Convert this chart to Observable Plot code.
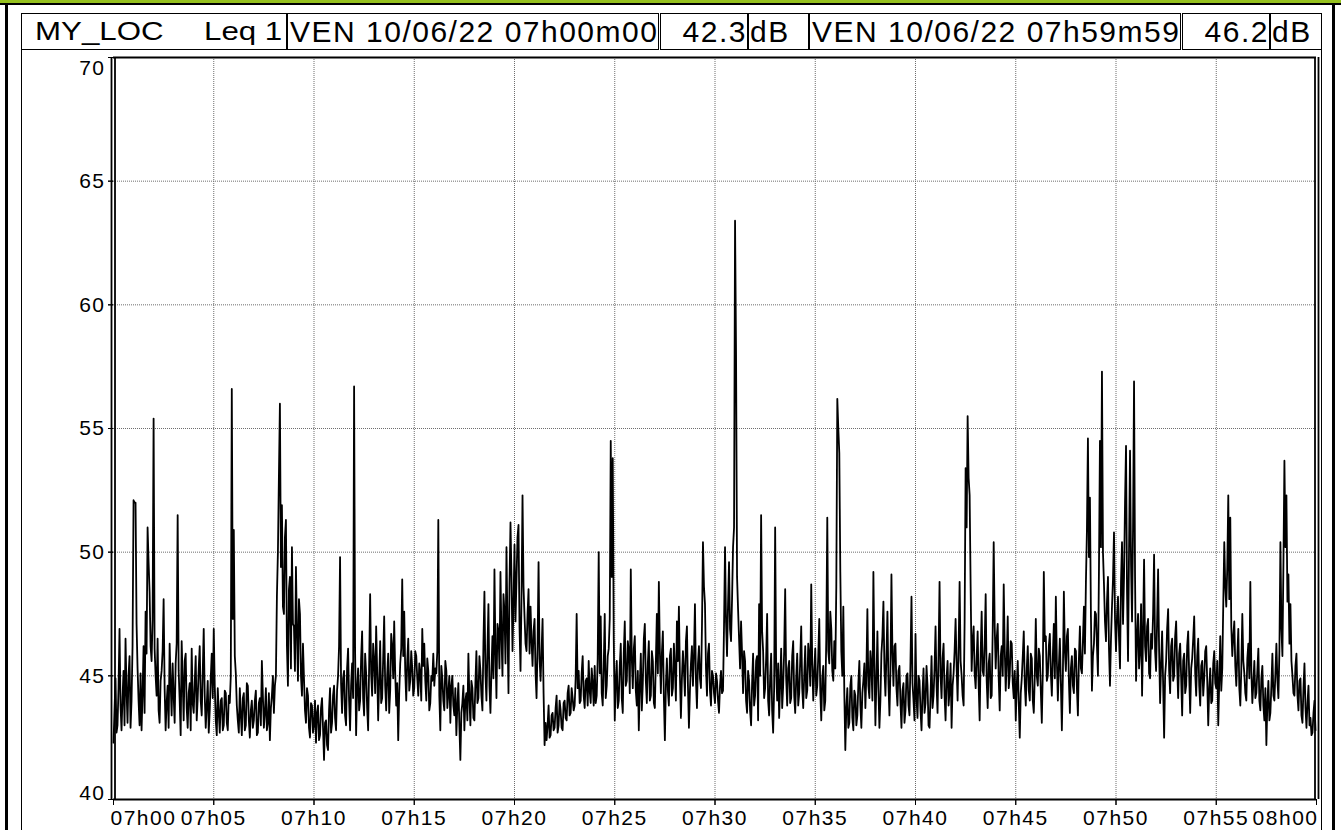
<!DOCTYPE html>
<html>
<head>
<meta charset="utf-8">
<script src="https://cdn.jsdelivr.net/npm/d3@7"></script>
<script src="https://cdn.jsdelivr.net/npm/@observablehq/plot@0.6"></script>
<style>
  html, body { margin: 0; padding: 0; background: #fff; }
  body { font-family: "Liberation Sans", Arial, sans-serif; }
  #page { position: relative; width: 1341px; height: 830px; overflow: hidden; background: #fff; }
  .deco { position: absolute; }
  #header { position: absolute; left: 0; top: 0; width: 1341px; height: 50px; }
  .cell { position: absolute; top: 13px; height: 37px; box-sizing: border-box; border: 1.5px solid #000;
          display: flex; align-items: center; white-space: nowrap; color: #000; background: #fff; }
  .big { font-size: 30px; letter-spacing: 1.5px; }
  .small { font-size: 25px; display: inline-block; transform: scaleX(1.25); transform-origin: left center; }
  #chart { position: absolute; left: 0; top: 50px; }
  #chart svg text { letter-spacing: 1.5px; font-size: 21px; }
</style>
</head>
<body>
<div id="page">
  <div id="header"></div>
  <div id="chart"></div>
</div>
<script>
// ---- Header texts ----
const locationName = "MY_LOC";
const metricName = "Leq 1";
const startStamp = "VEN 10/06/22 07h00m00";
const startValue = "42.3";
const endStamp = "VEN 10/06/22 07h59m59";
const endValue = "46.2";
const unit = "dB";

// ---- Axis ticks ----
const xTicks = [0, 5, 10, 15, 20, 25, 30, 35, 40, 45, 50, 55, 60];           // minutes after 07h00
const xTickLabels = ["07h00","07h05","07h10","07h15","07h20","07h25","07h30",
                     "07h35","07h40","07h45","07h50","07h55","08h00"];
const yTicks = [40, 45, 50, 55, 60, 65, 70];

// ---- Leq 1 values (dB), one every 3 s, one row per minute ----
const leq = [
  42.3,43.6,44.9,42.7,43.0,44.5,46.9,43.8,42.8,44.1,45.2,43.0,46.5,44.4,43.1,45.0,45.8,42.9,44.0,46.2, // 07h00
  52.1,52.0,52.0,47.1,45.3,44.0,43.0,45.1,42.8,44.3,46.2,43.5,47.6,45.9,51.0,49.6,48.4,46.2,45.6,47.3, // 07h01
  55.4,46.1,45.0,44.2,46.5,43.6,43.1,44.8,45.2,46.0,48.1,44.5,42.8,43.9,44.6,42.9,46.3,44.7,43.4,45.5, // 07h02
  44.2,43.1,45.5,46.3,51.5,45.2,44.0,42.6,46.4,44.8,43.2,45.6,45.9,43.7,42.9,44.3,44.7,42.8,46.1,43.9, // 07h03
  43.5,44.7,45.8,43.2,44.1,45.3,46.2,44.0,43.4,45.1,46.9,44.2,42.9,43.8,44.8,42.7,43.6,44.9,45.9,44.1, // 07h04
  46.9,44.6,43.2,42.6,44.5,43.5,42.7,44.0,44.1,42.8,43.0,44.4,44.3,43.1,42.8,44.2,43.9,45.0,56.6,47.3, // 07h05
  50.9,45.8,45.1,43.8,43.2,42.7,44.5,43.4,42.6,44.1,44.3,42.8,43.0,44.7,44.6,43.2,42.5,43.6,44.0,42.9, // 07h06
  43.2,44.0,44.4,42.6,42.7,43.9,44.1,43.0,45.6,44.2,42.9,43.5,44.5,42.8,43.1,44.3,42.4,43.7,44.2,45.0, // 07h07
  43.5,44.6,45.0,48.2,50.0,53.1,56.0,49.4,51.9,47.8,47.5,50.6,51.3,46.2,44.6,48.5,49.0,45.3,50.2,47.1, // 07h08
  47.0,45.2,49.4,46.8,44.8,48.1,47.5,45.0,44.2,46.3,44.9,43.6,43.1,44.5,44.2,42.9,42.5,43.9,43.8,42.7, // 07h09
  43.0,44.0,42.3,43.5,43.8,42.4,42.6,43.7,44.1,42.9,41.6,43.1,43.2,42.2,42.0,43.6,44.5,42.7,43.1,44.2, // 07h10
  44.6,43.3,42.8,44.4,45.0,46.2,49.8,44.7,43.5,44.9,45.2,43.4,43.0,45.3,46.1,44.0,42.8,44.6,45.5,44.1, // 07h11
  56.7,46.0,42.6,44.5,45.3,43.6,44.0,45.7,46.8,44.1,43.4,45.9,45.1,43.7,42.8,45.4,48.3,45.1,44.2,46.3, // 07h12
  45.6,44.3,47.0,45.2,43.2,44.8,46.4,43.9,44.1,45.7,47.4,44.6,43.6,45.0,45.9,43.5,44.4,46.7,46.2,44.9, // 07h13
  47.2,45.1,43.8,44.7,42.4,44.3,45.5,46.1,48.9,45.8,47.6,45.2,44.0,45.6,46.5,44.4,44.8,46.0,45.3,44.2, // 07h14
  44.5,46.0,45.8,44.9,44.2,45.5,45.1,44.0,46.9,45.4,46.3,44.8,44.0,45.7,45.2,43.6,43.9,45.0,44.8,45.9, // 07h15
  44.6,45.3,45.1,46.0,51.3,44.2,42.8,45.4,44.9,44.0,43.6,45.6,45.2,43.7,44.3,45.0,43.1,44.6,45.0,43.8, // 07h16
  43.4,44.5,42.6,43.8,44.7,43.0,41.6,43.5,43.9,44.6,42.8,44.0,44.3,43.2,45.9,44.1,43.0,44.8,44.5,43.3, // 07h17
  43.2,44.7,46.0,43.9,44.1,45.8,45.2,44.2,43.6,46.3,48.4,45.1,44.0,46.0,47.9,44.6,43.5,45.2,46.6,44.9, // 07h18
  49.3,45.9,44.1,47.1,46.8,45.3,49.2,46.6,45.0,48.3,47.6,45.5,50.2,46.9,44.3,48.7,51.2,49.0,46.0,47.9, // 07h19
  50.3,47.2,48.9,50.6,51.1,47.0,45.2,48.2,52.3,48.6,47.4,46.3,46.0,47.5,48.5,45.9,47.8,46.4,45.4,46.8, // 07h20
  47.3,45.1,44.1,46.2,49.6,45.7,44.8,46.0,47.3,44.3,42.2,43.1,42.4,43.0,43.8,42.5,42.6,43.4,43.5,42.8, // 07h21
  42.9,43.7,44.2,42.7,43.0,44.0,43.6,42.9,42.8,43.9,44.0,43.3,43.2,44.3,44.6,43.4,43.5,44.5,44.1,43.6, // 07h22
  43.8,44.9,47.5,44.5,45.2,43.9,44.0,45.1,45.8,44.2,43.7,44.8,44.9,43.8,45.6,44.4,43.9,45.3,44.7,43.8, // 07h23
  45.4,43.9,44.2,45.7,50.0,45.1,47.4,44.3,43.8,45.4,47.5,44.1,44.6,45.8,46.1,47.3,54.5,49.0,53.8,46.5, // 07h24
  43.2,44.8,45.6,43.7,44.0,45.4,46.3,44.1,43.5,45.9,47.2,44.6,44.8,46.4,46.0,44.3,49.3,45.7,44.5,46.1, // 07h25
  46.6,44.4,43.8,45.2,42.8,44.6,45.9,43.6,44.7,46.5,47.1,44.8,43.9,45.5,46.4,44.0,44.2,46.0,45.6,43.9, // 07h26
  43.7,45.6,47.5,45.1,48.8,46.0,44.3,45.9,46.8,44.1,42.4,44.6,45.7,44.4,43.8,45.8,46.1,44.2,44.5,46.3, // 07h27
  45.3,44.0,47.2,45.6,47.8,45.0,43.3,44.9,46.0,45.2,44.2,46.4,47.0,44.6,42.9,44.4,45.5,46.2,44.6,45.8, // 07h28
  47.9,44.8,43.7,45.5,46.2,44.9,44.5,47.0,50.4,48.6,47.9,45.3,44.2,45.9,46.3,44.4,43.8,45.2,45.0,44.3, // 07h29
  43.9,45.1,44.8,44.0,43.5,44.6,45.2,44.3,44.4,47.0,50.2,47.2,45.8,47.9,49.6,46.9,46.4,48.1,50.2,51.0, // 07h30
  63.4,58.0,49.0,47.7,46.5,45.3,47.2,45.9,44.3,46.0,45.6,44.0,43.5,45.2,44.8,43.6,43.0,44.7,45.9,43.8, // 07h31
  44.2,45.6,45.8,43.2,47.9,45.0,51.5,46.8,46.0,44.1,44.5,45.7,47.5,44.0,43.4,44.9,45.9,43.6,42.7,44.5, // 07h32
  51.0,45.3,44.0,45.5,43.3,44.7,46.1,43.7,44.6,46.0,48.5,44.9,43.8,45.3,45.6,43.9,44.1,45.8,46.4,44.2, // 07h33
  43.5,44.9,45.9,43.8,44.3,45.6,47.0,44.5,43.7,45.0,46.2,44.1,44.4,46.3,45.8,44.6,48.7,45.5,44.0,45.2, // 07h34
  46.1,44.2,44.6,45.8,47.3,44.4,43.2,44.9,45.4,43.6,44.0,46.5,51.4,46.0,45.5,47.6,46.9,45.2,44.8,46.4, // 07h35
  45.3,48.6,56.2,55.0,54.0,49.2,46.0,45.0,47.8,44.3,42.0,43.7,44.5,42.9,43.1,44.6,45.0,43.3,42.8,44.4, // 07h36
  44.2,43.0,43.4,44.7,45.6,43.8,42.9,44.3,44.8,45.5,43.7,45.1,47.7,44.6,44.1,46.0,45.4,44.0,49.2,45.6, // 07h37
  43.0,44.8,46.8,44.5,42.9,44.0,45.9,46.6,48.0,45.3,44.2,45.8,47.6,44.7,43.4,45.2,49.1,45.9,44.6,46.2, // 07h38
  46.3,44.5,43.8,45.2,45.4,43.9,42.9,44.4,44.7,43.1,43.6,45.0,45.1,43.8,43.4,45.6,48.2,44.7,44.0,43.2, // 07h39
  46.7,44.1,43.3,45.0,44.8,43.6,42.8,44.3,45.3,43.5,43.9,45.4,44.6,43.0,42.9,44.2,45.8,43.7,44.2,45.3, // 07h40
  47.0,44.6,43.5,45.9,48.8,45.0,44.1,45.7,46.3,44.2,43.2,44.9,45.6,43.8,44.4,45.5,42.9,44.6,45.1,46.0, // 07h41
  47.3,45.4,44.0,46.1,48.8,45.6,45.0,44.2,43.8,47.2,53.4,51.0,55.5,53.0,52.3,48.6,45.2,46.4,47.0,45.1, // 07h42
  44.5,45.7,46.8,44.6,43.2,45.9,47.6,45.2,45.0,46.3,48.3,44.8,43.7,45.5,45.9,44.1,44.2,46.8,50.4,47.0, // 07h43
  45.3,46.5,47.1,44.9,43.6,45.8,46.2,45.0,48.7,46.1,44.4,45.6,47.4,44.5,45.0,46.4,46.3,44.7,44.1,45.2, // 07h44
  43.2,44.6,45.6,43.9,42.5,44.3,44.9,45.8,46.8,44.7,43.8,45.3,46.2,44.4,44.0,45.9,45.7,44.0,43.5,45.0, // 07h45
  47.3,45.0,44.6,46.1,45.8,44.4,43.1,45.2,49.2,46.4,46.6,44.8,45.0,46.2,46.7,45.1,44.2,45.8,47.1,44.9, // 07h46
  48.2,45.6,44.0,45.4,46.5,44.7,42.8,45.0,48.4,46.0,45.2,46.6,46.9,44.8,43.5,45.3,45.8,44.6,44.3,46.1, // 07h47
  46.0,44.5,43.4,45.7,47.0,45.3,45.1,46.4,47.8,45.9,48.8,50.9,54.6,49.8,52.2,47.4,44.4,45.8,46.3,47.6, // 07h48
  47.5,46.2,45.0,49.3,54.5,50.2,57.3,50.0,48.7,47.2,46.4,48.0,49.0,46.1,44.6,46.5,47.8,48.9,50.8,47.3, // 07h49
  46.0,47.4,48.2,46.5,45.3,48.8,50.4,47.1,49.0,52.0,54.3,48.4,45.6,50.1,54.1,49.5,47.2,51.0,56.9,49.0, // 07h50
  44.8,46.6,47.5,45.3,46.0,47.9,44.2,46.8,49.7,46.2,45.6,47.0,47.3,45.1,44.9,46.7,46.1,47.5,49.9,46.0, // 07h51
  45.2,47.2,49.3,46.0,43.9,45.5,46.8,44.7,42.5,45.0,45.6,46.9,47.7,45.2,44.3,46.2,46.5,44.8,45.0,46.6, // 07h52
  47.2,45.4,44.1,45.9,46.3,44.9,43.4,45.6,45.9,44.3,44.6,46.2,46.8,45.0,43.5,45.3,45.7,46.5,47.4,45.1, // 07h53
  44.2,45.8,46.5,44.6,43.8,45.4,45.6,44.2,44.9,46.0,46.2,44.8,43.0,44.5,45.3,43.9,44.0,45.5,46.0,44.7, // 07h54
  44.5,45.6,43.0,44.8,46.6,44.4,45.3,47.9,50.4,48.6,47.8,49.4,52.3,48.1,51.4,47.0,45.8,46.6,47.2,45.4, // 07h55
  44.6,45.8,46.9,44.5,43.8,45.3,47.5,45.6,45.1,44.3,44.0,45.7,46.3,44.9,48.8,45.2,43.9,44.7,45.6,44.1, // 07h56
  44.3,45.2,46.1,44.0,43.6,44.9,45.4,43.8,43.2,44.5,42.2,43.9,44.8,43.2,43.5,44.6,45.9,44.2,44.0,45.1, // 07h57
  46.3,44.8,44.1,46.0,50.4,46.9,45.8,49.5,53.7,50.2,52.3,48.0,49.1,46.3,47.9,45.6,45.0,44.3,44.2,45.4, // 07h58
  45.9,44.2,43.6,44.8,44.9,43.4,43.1,44.5,45.5,43.7,42.9,43.9,44.6,43.0,43.3,42.6,42.7,43.5,44.0,42.8  // 07h59
];
const sampleMinutes = 0.05; // 3 s between samples
const series = leq.map((v, i) => ({t: i * sampleMinutes, v}));

// ---- Decorations (frame of the report page) ----
const page = document.getElementById("page");
function deco(l, t, w, h, color) {
  const d = document.createElement("div");
  d.className = "deco";
  Object.assign(d.style, {left: l + "px", top: t + "px", width: w + "px", height: h + "px", background: color});
  page.appendChild(d);
}
deco(0, 0, 1341, 3, "#96c11f");        // green band on top
deco(0, 3, 1341, 2, "#000");           // black rule under it
deco(5, 4, 3, 826, "#000");            // outer left border
deco(21, 13, 1, 817, "#000");          // inner left frame
deco(1321, 13, 1, 817, "#000");        // inner right frame
deco(1332, 4, 3, 826, "#000");         // outer right border

// ---- Header row ----
const header = document.getElementById("header");
function cell(l, r, html, justify, padL, padR) {
  const c = document.createElement("div");
  c.className = "cell";
  Object.assign(c.style, {left: l + "px", width: (r - l) + "px", justifyContent: justify,
                          paddingLeft: (padL || 0) + "px", paddingRight: (padR || 0) + "px"});
  c.innerHTML = html;
  header.appendChild(c);
}
cell(21, 287, `<span class="small" style="position:absolute;left:13px">${locationName}</span>
               <span class="small" style="position:absolute;left:182px">${metricName}</span>`, "flex-start");
cell(287, 659, `<span class="big">${startStamp}</span>`, "flex-start", 2);
cell(660, 748, `<span class="big">${startValue}</span>`, "flex-end", 0, 0);
cell(748, 809, `<span class="big">${unit}</span>`, "flex-start", 1);
cell(809, 1181, `<span class="big">${endStamp}</span>`, "flex-start", 2);
cell(1182, 1270, `<span class="big">${endValue}</span>`, "flex-end", 0, 0);
cell(1270, 1322, `<span class="big">${unit}</span>`, "flex-start", 1);

// ---- Chart ----
const fmtX = m => xTickLabels[xTicks.indexOf(m)];
const blank = () => "";
const grid = {stroke: "#6e6e6e", strokeOpacity: 1, strokeWidth: 1, strokeDasharray: "1,1"};
const chart = Plot.plot({
  width: 1341,
  height: 780,
  marginTop: 7,
  marginBottom: 31,
  marginLeft: 113,
  marginRight: 25,
  style: {fontFamily: "'Liberation Sans', Arial, sans-serif", fontSize: "21px", color: "#000", background: "transparent", overflow: "visible"},
  x: {type: "linear", domain: [0, 60], label: null},
  y: {type: "linear", domain: [40, 70], label: null},
  marks: [
    Plot.gridX(xTicks.slice(1, -1), grid),
    Plot.gridY(yTicks.slice(1, -1), grid),
    Plot.line(series, {x: "t", y: "v", stroke: "#000", strokeWidth: 1.8}),
    // frame: single top & bottom, double left & right
    Plot.ruleY([70], {stroke: "#000", strokeWidth: 2}),
    Plot.ruleY([40], {stroke: "#000", strokeWidth: 2}),
    Plot.ruleX([0], {stroke: "#000", strokeWidth: 1.8, dx: -2}),
    Plot.ruleX([0], {stroke: "#000", strokeWidth: 1.8, dx: 1.5}),
    Plot.ruleX([60], {stroke: "#000", strokeWidth: 1.8, dx: -1.5}),
    Plot.ruleX([60], {stroke: "#000", strokeWidth: 1.8, dx: 2}),
    // y axis: tick marks everywhere, end labels kept inside the frame
    Plot.axisY(yTicks, {tickSize: 5, tickFormat: blank, label: null}),
    Plot.axisY(yTicks.slice(1, -1), {tickSize: 5, tickPadding: 3, label: null}),
    Plot.axisY([70], {tickSize: 0, tickPadding: 8, dy: 11, label: null}),
    Plot.axisY([40], {tickSize: 0, tickPadding: 8, dy: -6, label: null}),
    // x axis: tick marks everywhere, end labels kept inside the frame
    Plot.axisX(xTicks, {tickSize: 6, tickFormat: blank, label: null}),
    Plot.axisX(xTicks.slice(1, -1), {tickSize: 6, tickPadding: 5, tickFormat: fmtX, label: null}),
    Plot.axisX([0], {tickSize: 0, tickPadding: 11, tickFormat: fmtX, textAnchor: "start", dx: -3, label: null}),
    Plot.axisX([60], {tickSize: 0, tickPadding: 11, tickFormat: fmtX, textAnchor: "end", dx: 2, label: null})
  ]
});
document.getElementById("chart").appendChild(chart);
</script>
</body>
</html>
